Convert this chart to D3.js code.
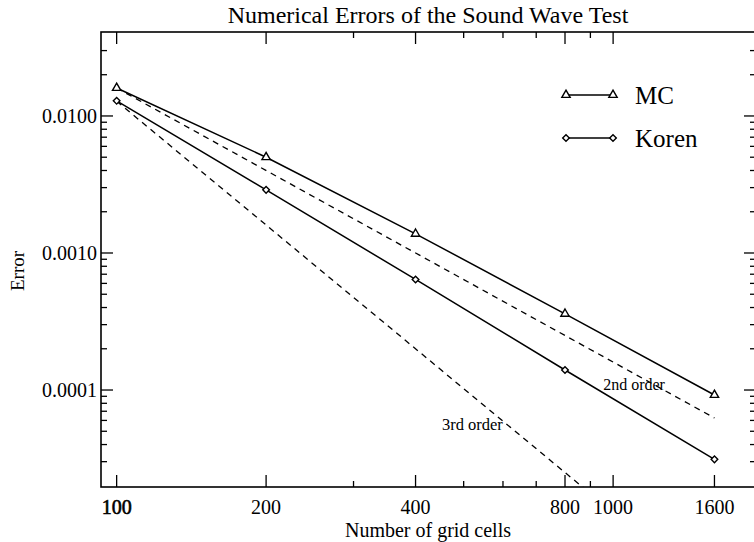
<!DOCTYPE html>
<html>
<head>
<meta charset="utf-8">
<script src="https://cdn.jsdelivr.net/npm/d3@7"></script>
<style>
  body { margin: 0; background: #fff; }
  svg { display: block; }
</style>
</head>
<body>
<svg id="chart" width="754" height="542"></svg>
<script>
// Numerical errors vs. grid resolution, log-log.

const nCells    = [100, 200, 400, 800, 1600];
const errMC     = [0.016, 0.0050, 0.00138, 0.00036, 0.000092];
const errKoren  = [0.0129, 0.00289, 0.000641, 0.000140, 0.0000312];

// reference slopes (dashed)
const refN       = [100, 1600];
const ref2ndErr  = [0.016, 0.0000625];
const ref3rdErr  = [0.0128, 0.000003125];

const xMajorTicks = [100, 200, 400, 800, 1000, 1600];
const xMinorTicks = [300, 500, 600, 700, 900];
const yMajorTicks = [0.01, 0.001, 0.0001];

const seriesNames = ["MC", "Koren"];

const FONT = "'Liberation Serif', 'Times New Roman', serif";
const MAJOR = 12, MINOR = 6;

const svg = d3.select("#chart");
const plot = { left: 101, right: 756, top: 32, bottom: 487 };

const x = d3.scaleLog().domain([93, 1940]).range([plot.left, plot.right]);
const y = d3.scaleLog().domain([1.96e-5, 0.041]).range([plot.bottom, plot.top]);

const yMinorTicks = y.ticks()
  .filter(v => !yMajorTicks.some(m => Math.abs(m - v) / m < 1e-6))
  .filter(v => y(v) > plot.top + 3 && y(v) < plot.bottom - 3);

svg.append("defs").append("clipPath").attr("id", "clip")
  .append("rect")
  .attr("x", plot.left).attr("y", plot.top)
  .attr("width", plot.right - plot.left).attr("height", plot.bottom - plot.top);

// Title
svg.append("text")
  .attr("x", 428).attr("y", 23)
  .attr("text-anchor", "middle")
  .attr("font-family", FONT).attr("font-size", "24px")
  .text("Numerical Errors of the Sound Wave Test");

// Ticks (all pointing inward)
const ticks = svg.append("g").attr("stroke", "#000").attr("stroke-width", 1.3);

xMajorTicks.forEach(v => {
  ticks.append("line").attr("x1", x(v)).attr("x2", x(v))
    .attr("y1", plot.bottom).attr("y2", plot.bottom - MAJOR);
  if (v !== 1600) {
    ticks.append("line").attr("x1", x(v)).attr("x2", x(v))
      .attr("y1", plot.top).attr("y2", plot.top + MAJOR);
  }
});
xMinorTicks.forEach(v => {
  ticks.append("line").attr("x1", x(v)).attr("x2", x(v))
    .attr("y1", plot.bottom).attr("y2", plot.bottom - MINOR);
  ticks.append("line").attr("x1", x(v)).attr("x2", x(v))
    .attr("y1", plot.top).attr("y2", plot.top + MINOR);
});
yMajorTicks.forEach(v => {
  ticks.append("line").attr("x1", plot.left).attr("x2", plot.left + MAJOR)
    .attr("y1", y(v)).attr("y2", y(v));
  ticks.append("line").attr("x1", plot.right).attr("x2", plot.right - MAJOR)
    .attr("y1", y(v)).attr("y2", y(v));
});
yMinorTicks.forEach(v => {
  ticks.append("line").attr("x1", plot.left).attr("x2", plot.left + MINOR)
    .attr("y1", y(v)).attr("y2", y(v));
  ticks.append("line").attr("x1", plot.right).attr("x2", plot.right - MINOR)
    .attr("y1", y(v)).attr("y2", y(v));
});

// Frame
svg.append("rect")
  .attr("x", plot.left).attr("y", plot.top)
  .attr("width", plot.right - plot.left).attr("height", plot.bottom - plot.top)
  .attr("fill", "none").attr("stroke", "#000").attr("stroke-width", 1.6);

// Tick labels
const fmtY = d3.format(".4f");
svg.append("g").selectAll("text").data(yMajorTicks).join("text")
  .attr("x", plot.left - 4).attr("y", d => y(d))
  .attr("dy", "0.35em")
  .attr("text-anchor", "end")
  .attr("font-family", FONT).attr("font-size", "20px")
  .text(d => fmtY(d));

svg.append("g").selectAll("text").data(xMajorTicks).join("text")
  .attr("x", d => x(d)).attr("y", plot.bottom + 27)
  .attr("text-anchor", "middle")
  .attr("font-family", FONT).attr("font-size", "20px")
  .attr("stroke", d => d === 100 ? "#000" : null)
  .attr("stroke-width", d => d === 100 ? 0.6 : null)
  .text(d => d);

// Axis titles
svg.append("text")
  .attr("x", 428).attr("y", 537)
  .attr("text-anchor", "middle")
  .attr("font-family", FONT).attr("font-size", "20px")
  .text("Number of grid cells");

svg.append("text")
  .attr("transform", "translate(24,271) rotate(-90)")
  .attr("text-anchor", "middle")
  .attr("font-family", FONT).attr("font-size", "19px")
  .text("Error");

// Data
const line = d3.line().x(d => x(d[0])).y(d => y(d[1]));
const g = svg.append("g").attr("clip-path", "url(#clip)");

g.append("path")
  .datum(d3.zip(refN, ref2ndErr))
  .attr("d", line).attr("fill", "none")
  .attr("stroke", "#000").attr("stroke-width", 1.3)
  .attr("stroke-dasharray", "6,5");

g.append("path")
  .datum(d3.zip(refN, ref3rdErr))
  .attr("d", line).attr("fill", "none")
  .attr("stroke", "#000").attr("stroke-width", 1.3)
  .attr("stroke-dasharray", "6,5");

const triangle = d3.symbol(d3.symbolTriangle, 30);
const diamond  = d3.symbol(d3.symbolSquare, 22);

const series = [
  { name: seriesNames[0], values: errMC,    sym: triangle, rot: 0 },
  { name: seriesNames[1], values: errKoren, sym: diamond,  rot: 45 },
];

series.forEach(s => {
  const pts = d3.zip(nCells, s.values);
  g.append("path")
    .datum(pts)
    .attr("d", line).attr("fill", "none")
    .attr("stroke", "#000").attr("stroke-width", 1.5);
  g.selectAll(null).data(pts).join("path")
    .attr("d", s.sym)
    .attr("transform", d => `translate(${x(d[0])},${y(d[1])}) rotate(${s.rot})`)
    .attr("fill", "#fff").attr("stroke", "#000").attr("stroke-width", 1.4);
});

// Slope annotations
svg.append("text")
  .attr("x", x(955)).attr("y", y(1.0e-4))
  .attr("font-family", FONT).attr("font-size", "16px")
  .text("2nd order");
svg.append("text")
  .attr("x", x(452)).attr("y", y(5.07e-5))
  .attr("font-family", FONT).attr("font-size", "16.5px")
  .text("3rd order");

// Legend
const legend = svg.append("g");
series.forEach((s, i) => {
  const ly = 95 + i * 43;
  legend.append("line")
    .attr("x1", 566).attr("x2", 613).attr("y1", ly).attr("y2", ly)
    .attr("stroke", "#000").attr("stroke-width", 1.5);
  [566, 613].forEach(lx => {
    legend.append("path")
      .attr("d", s.sym)
      .attr("transform", `translate(${lx},${ly}) rotate(${s.rot})`)
      .attr("fill", "#fff").attr("stroke", "#000").attr("stroke-width", 1.4);
  });
  legend.append("text")
    .attr("x", 635).attr("y", ly)
    .attr("dy", "0.35em")
    .attr("font-family", FONT).attr("font-size", "25px")
    .text(s.name);
});
</script>
</body>
</html>
